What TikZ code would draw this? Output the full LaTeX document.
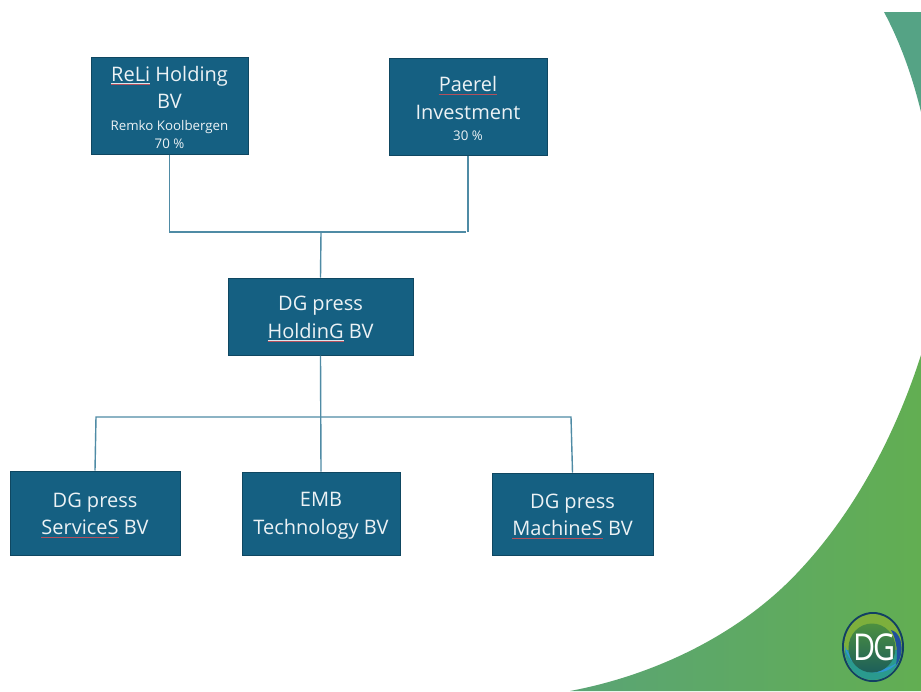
\documentclass[tikz,border=0pt]{standalone}
\usepackage{fontspec}
\setmainfont{Open Sans}
\usepackage{xcolor}
\usetikzlibrary{calc}
\definecolor{boxblue}{HTML}{156082}
\definecolor{boxedge}{HTML}{0F4761}
\definecolor{linkblue}{HTML}{4F8BA5}
\definecolor{spellred}{HTML}{B4505C}
\definecolor{swooshteal}{HTML}{55A385}
\definecolor{swooshleft}{HTML}{5AA475}
\definecolor{swooshgreen}{HTML}{62AE52}
\definecolor{logonavy}{HTML}{123F63}
\definecolor{logoleaf}{HTML}{7DAF3C}
\definecolor{logogreen}{HTML}{4C8F40}
\definecolor{logoteal}{HTML}{0F6F85}
\definecolor{logodeep}{HTML}{1D5E5A}
\definecolor{logosky}{HTML}{2F96D2}
\definecolor{logoroyal}{HTML}{1F4F9E}
\definecolor{logosea}{HTML}{2A9A8E}
\newcommand{\spellmark}[1]{\setbox0=\hbox{#1}\rlap{\color{white!85!boxblue}\raisebox{-2.6pt}{\rule{\wd0}{0.6pt}}}\rlap{\color{spellred}\raisebox{-3.4pt}{\rule{\wd0}{0.7pt}}}#1}
\newcommand{\smalltext}[1]{{\fontsize{13.3}{18}\selectfont #1}}
\newcommand{\toprow}{\rule{0pt}{19pt}}
\tikzset{
	orgbox/.style={draw=boxedge, line width=1pt, fill=boxblue, text=white!92!boxblue, inner sep=0pt, align=center, font=\fontsize{20}{27.5}\selectfont},
	orglink/.style={draw=linkblue, line width=1.4pt},
}

\begin{document}
\begin{tikzpicture}[x=1pt, y=-1pt]
	%%%%% BACKGROUND %%%%%
	\fill[white] (0, 0) rectangle (921, 691);
	\useasboundingbox (0, 0) rectangle (921, 691);
	
	\fill[swooshteal] (884, 12) .. controls (900, 42) and (912, 75) .. (921, 112) -- (921, 12) -- cycle;
	\shade[shading angle=75, left color=swooshleft, right color=swooshgreen] (921, 355) .. controls (896, 433) and (856, 510) .. (800, 570) .. controls (741, 634) and (655, 675) .. (570, 691) -- (921, 691) -- cycle;
	
	%%%%% BOXES %%%%%
	\node[orgbox, minimum width=157pt, minimum height=97pt] (reli) at (169.5, 105.5) {\toprow\spellmark{ReLi} Holding\\BV\\[-6pt]\smalltext{Remko Koolbergen}\\[-9.5pt]\smalltext{70 \%}};
	\node[orgbox, minimum width=158pt, minimum height=97pt] (paerel) at (468, 106.5) {\toprow\spellmark{Paerel}\\Investment\\[-6.5pt]\smalltext{30 \%}};
	\node[orgbox, minimum width=185pt, minimum height=77pt] (holding) at (320.5, 316.5) {\toprow DG press\\\spellmark{HoldinG} BV};
	\node[orgbox, minimum width=170pt, minimum height=84pt] (services) at (95, 513) {\toprow DG press\\\spellmark{ServiceS} BV};
	\node[orgbox, minimum width=158pt, minimum height=83pt] (emb) at (321, 513.5) {\toprow EMB\\Technology BV};
	\node[orgbox, minimum width=161pt, minimum height=82pt] (machines) at (572.5, 514) {\toprow DG press\\\spellmark{MachineS} BV};
	
	%%%%% LINKS %%%%%
	\coordinate (topjoin) at (321, 232);
	\coordinate (topend) at (466, 232);
	\coordinate (paerelfoot) at (468, 232);
	\coordinate (lowleft) at (96, 417);
	\coordinate (lowright) at (571, 417);
	
	\draw[orglink] (reli.south) |- (topend);
	\draw[orglink] (paerel.south) -- (paerelfoot);
	\draw[orglink] (topjoin) -- (holding.north);
	\draw[orglink] (holding.south) -- (emb.north);
	\draw[orglink] (services.north) -- (lowleft) -- (lowright) -- (machines.north);
	
	%%%%% LOGO %%%%%
	\fill[logonavy] (873, 647) ellipse (31 and 35);
	\fill[logoleaf] (873, 647) ellipse (29 and 33);
	\fill[logosea] (844.5, 650) .. controls (846, 668) and (858, 680) .. (873, 680) .. controls (888, 680) and (900, 668) .. (901.5, 650) -- cycle;
	\fill[logosky] (844.5, 646) .. controls (848, 668) and (880, 684) .. (898, 662) .. controls (880, 676) and (855, 668) .. cycle;
	\shade[top color=logogreen, middle color=logoteal, bottom color=logodeep] (872, 648) ellipse (23.5 and 24.5);
	\fill[logoroyal] (891, 630) .. controls (899, 632) and (902, 642) .. (901.5, 650) .. controls (901, 656) and (899, 662) .. (896, 665) .. controls (898, 654) and (897, 640) .. cycle;
	\node[text=white, font=\fontsize{37}{37}\selectfont, inner sep=0pt, xscale=0.82, transform shape] (logotext) at (874.5, 647) {D\kern-3pt G};
\end{tikzpicture}
\end{document}
